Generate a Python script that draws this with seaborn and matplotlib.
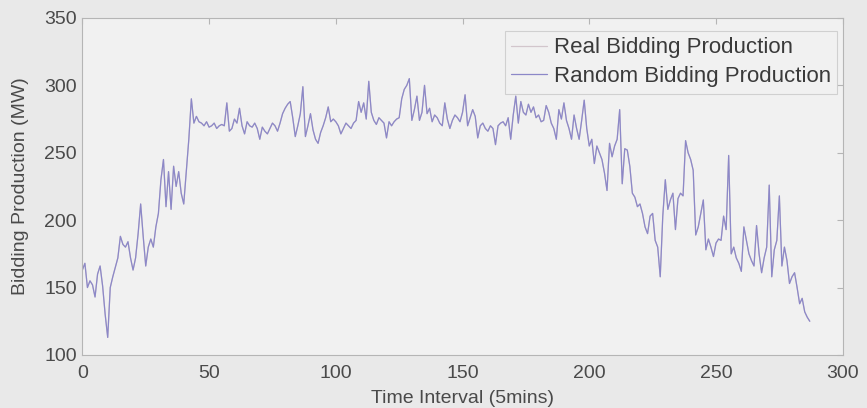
import pandas as pd
import numpy as np
import matplotlib
matplotlib.use('Agg')
import matplotlib.pyplot as plt
import seaborn as sns

# ============================================================================
# DATA (288 five-minute intervals)
# ============================================================================

random_bidding = [
    163, 168, 150, 155, 152, 143, 160, 166, 151, 130,
    113, 150, 158, 165, 172, 188, 182, 180, 184, 172,
    163, 172, 190, 212, 188, 166, 180, 186, 180, 195,
    205, 230, 245, 210, 236, 208, 240, 225, 236, 220,
    212, 236, 260, 290, 272, 277, 273, 272, 270, 273,
    269, 270, 272, 268, 270, 271, 270, 287, 266, 268,
    275, 272, 283, 270, 264, 273, 270, 269, 272, 268,
    260, 269, 266, 264, 268, 272, 270, 266, 272, 279,
    283, 286, 288, 276, 262, 270, 279, 299, 262, 270,
    279, 267, 260, 257, 265, 270, 276, 284, 273, 275,
    273, 270, 264, 268, 272, 270, 268, 272, 274, 288,
    280, 287, 275, 303, 280, 274, 271, 276, 274, 272,
    261, 273, 270, 273, 275, 276, 290, 297, 300, 305,
    274, 282, 292, 274, 280, 300, 279, 283, 273, 278,
    276, 272, 270, 287, 275, 268, 274, 278, 276, 273,
    280, 293, 270, 276, 282, 277, 261, 270, 272, 268,
    266, 270, 268, 256, 270, 272, 273, 270, 276, 260,
    278, 292, 272, 288, 280, 278, 286, 280, 284, 276,
    278, 273, 274, 285, 280, 272, 268, 260, 282, 275,
    287, 274, 268, 260, 278, 268, 260, 274, 289, 268,
    255, 260, 242, 255, 250, 245, 235, 222, 257, 247,
    255, 260, 282, 227, 253, 252, 240, 220, 217, 210,
    212, 205, 195, 190, 203, 205, 185, 180, 158, 203,
    230, 208, 215, 220, 193, 216, 220, 218, 259, 250,
    245, 237, 189, 195, 205, 215, 178, 186, 180, 173,
    183, 186, 185, 203, 193, 248, 175, 180, 172, 168,
    162, 195, 185, 175, 170, 166, 196, 175, 161, 172,
    180, 226, 158, 178, 185, 218, 166, 180, 170, 153,
    158, 161, 150, 138, 142, 132, 128, 125,
]
# the real curve sits under the random one in the reference
real_bidding = list(random_bidding)
time_interval = list(range(len(random_bidding)))

series_names = ['Real Bidding Production', 'Random Bidding Production']

x_ticks = [0, 50, 100, 150, 200, 250, 300]
y_ticks = [100, 150, 200, 250, 300, 350]

df = pd.DataFrame({
    'Time': time_interval * 2,
    'Production': real_bidding + random_bidding,
    'Series': [series_names[0]] * len(real_bidding) + [series_names[1]] * len(random_bidding),
})

# ============================================================================
# PLOT
# ============================================================================

sns.set_style('white')
plt.rcParams['font.family'] = ['Liberation Sans', 'DejaVu Sans']

fig = plt.figure(figsize=(8.67, 4.08), dpi=100, facecolor='#e9e9e9')
ax = fig.add_axes([0.095, 0.13, 0.877, 0.826])
ax.set_facecolor('#f1f1f1')

palette = {series_names[0]: '#d2c6cc', series_names[1]: '#8c88c8'}
sns.lineplot(data=df, x='Time', y='Production', hue='Series', palette=palette,
             linewidth=0.9, ax=ax)

ax.set_xlim(0, 300)
ax.set_ylim(100, 350)
ax.set_xticks(x_ticks)
ax.set_yticks(y_ticks)
ax.tick_params(direction='in', length=4, color='#b5b5b5', labelsize=14,
               labelcolor='#4a4a4a', top=True, right=True)
ax.tick_params(axis='x', pad=7)
ax.tick_params(axis='y', pad=4)
for side in ax.spines.values():
    side.set_color('#b5b5b5')
    side.set_linewidth(0.8)

ax.set_xlabel('Time Interval (5mins)', fontsize=14, color='#4a4a4a', labelpad=6)
ax.set_ylabel('Bidding Production (MW)', fontsize=14, color='#4a4a4a', labelpad=11)

leg = ax.legend(loc='upper right', fontsize=16, frameon=True, fancybox=False,
                handlelength=1.6, handletextpad=0.3, borderpad=0.3,
                labelspacing=0.35, borderaxespad=0,
                bbox_to_anchor=(0.993, 0.962))
leg.get_frame().set_edgecolor('#c8c8c8')
leg.get_frame().set_facecolor('#f1f1f1')
leg.get_frame().set_linewidth(0.8)
for txt in leg.get_texts():
    txt.set_color('#3a3a3a')

plt.savefig('out.png', dpi=100, facecolor=fig.get_facecolor())
